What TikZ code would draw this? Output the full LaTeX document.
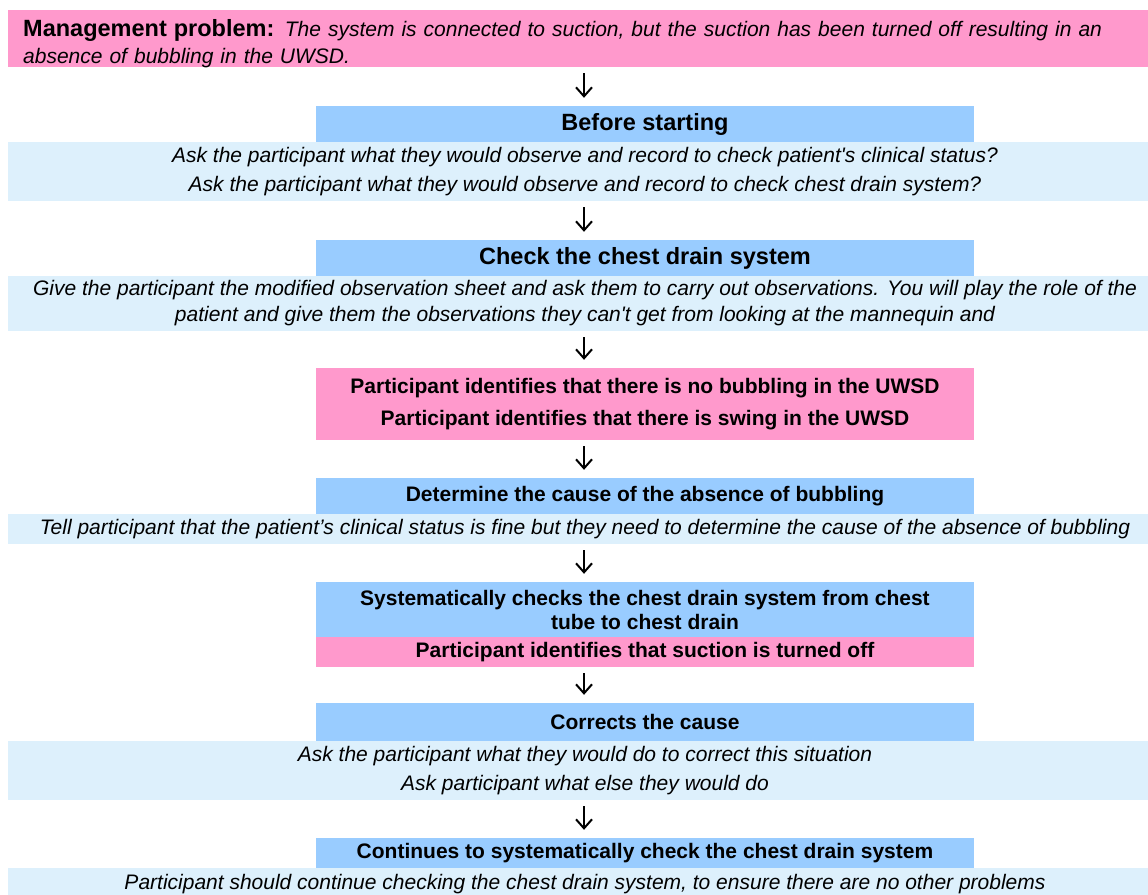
\documentclass[tikz,border=0pt]{standalone}
\usepackage{fontspec}
\setmainfont{Liberation Sans}
\usetikzlibrary{arrows.meta}
\definecolor{flowpink}{HTML}{FF99CC}
\definecolor{flowblue}{HTML}{99CCFF}
\definecolor{notecyan}{HTML}{DDF0FC}
\newcommand\headbf{\fontsize{23.5}{28}\selectfont\bfseries}
\newcommand\stepbf{\fontsize{21}{26}\selectfont\bfseries}
\newcommand\noteit{\fontsize{21}{29}\selectfont\itshape}
\tikzset{
  box/.style={inner sep=0pt, align=center},
  pinkbox/.style={box, fill=flowpink, minimum width=658pt},
  bluebox/.style={box, fill=flowblue, minimum width=658pt},
  notebox/.style={box, fill=notecyan, minimum width=1154pt, font=\noteit},
  flow/.style={-{Straight Barb[length=9pt,width=16pt]}, line width=2pt, shorten <=6pt, shorten >=8pt}
}

\begin{document}
\begin{tikzpicture}[x=1pt,y=-1pt]
\useasboundingbox (0,0) rectangle (1148,894);
\clip (0,0) rectangle (1148,894);
\coordinate (spine) at (584,0);
% problem
\node (pbm) at (578,38.5)[box, fill=flowpink, minimum width=1140pt, minimum height=57pt] {};
\node (pbmtext) at (23,44)[anchor=west, inner sep=0pt, text width=1115pt, align=left, font=\fontsize{21}{27}\selectfont]
  {{\headbf Management problem:} \textit{The system is connected to suction, but the suction has been turned off resulting in an}\\\textit{absence of bubbling in the UWSD.}};
% before starting
\node (bstart) at (645,124)[bluebox, minimum height=36pt, font=\headbf] {Before starting};
\node (bnote) at (585,171.5)[notebox, minimum height=59pt]
  {Ask the participant what they would observe and record to check patient\textquotesingle s clinical status?\\
   Ask the participant what they would observe and record to check chest drain system?};
% check
\node (chk) at (645,258)[bluebox, minimum height=36pt, font=\headbf] {Check the chest drain system};
\node (chknote) at (585,303.5)[notebox, minimum height=55pt, font=\fontsize{21}{26}\selectfont\itshape]
  {Give the participant the modified observation sheet and ask them to carry out observations. You will play the role of the\\
   patient and give them the observations they can\textquotesingle t get from looking at the mannequin and};
\node (nobub) at (645,404)[pinkbox, minimum height=72pt, font=\stepbf]
  {Participant identifies that there is no bubbling in the UWSD\\[6pt]
   Participant identifies that there is swing in the UWSD};
% cause
\node (cause) at (645,496)[bluebox, minimum height=36pt, font=\stepbf] {Determine the cause of the absence of bubbling};
\node (causenote) at (585,529)[notebox, minimum height=30pt]
  {Tell participant that the patient’s clinical status is fine but they need to determine the cause of the absence of bubbling};
\node (syst) at (645,609.5)[bluebox, minimum height=55pt, font=\fontsize{21}{24}\selectfont\bfseries]
  {Systematically checks the chest drain system from chest\\tube to chest drain};
\node (suct) at (645,652)[pinkbox, minimum height=30pt, font=\stepbf] {Participant identifies that suction is turned off};
% correct
\node (corr) at (645,722)[bluebox, minimum height=38pt, font=\stepbf] {Corrects the cause};
\node (corrnote) at (585,770.5)[notebox, minimum height=59pt]
  {Ask the participant what they would do to correct this situation\\
   Ask participant what else they would do};
\node (cont) at (645,853)[bluebox, minimum height=30pt, font=\stepbf] {Continues to systematically check the chest drain system};
\node (contnote) at (585,884)[notebox, minimum height=32pt]
  {Participant should continue checking the chest drain system, to ensure there are no other problems};
% arrows
\draw[flow] (pbm.south -| spine) -- (bstart.north -| spine);
\draw[flow] (bnote.south -| spine) -- (chk.north -| spine);
\draw[flow] (chknote.south -| spine) -- (nobub.north -| spine);
\draw[flow] (nobub.south -| spine) -- (cause.north -| spine);
\draw[flow] (causenote.south -| spine) -- (syst.north -| spine);
\draw[flow] (suct.south -| spine) -- (corr.north -| spine);
\draw[flow] (corrnote.south -| spine) -- (cont.north -| spine);
\end{tikzpicture}
\end{document}
